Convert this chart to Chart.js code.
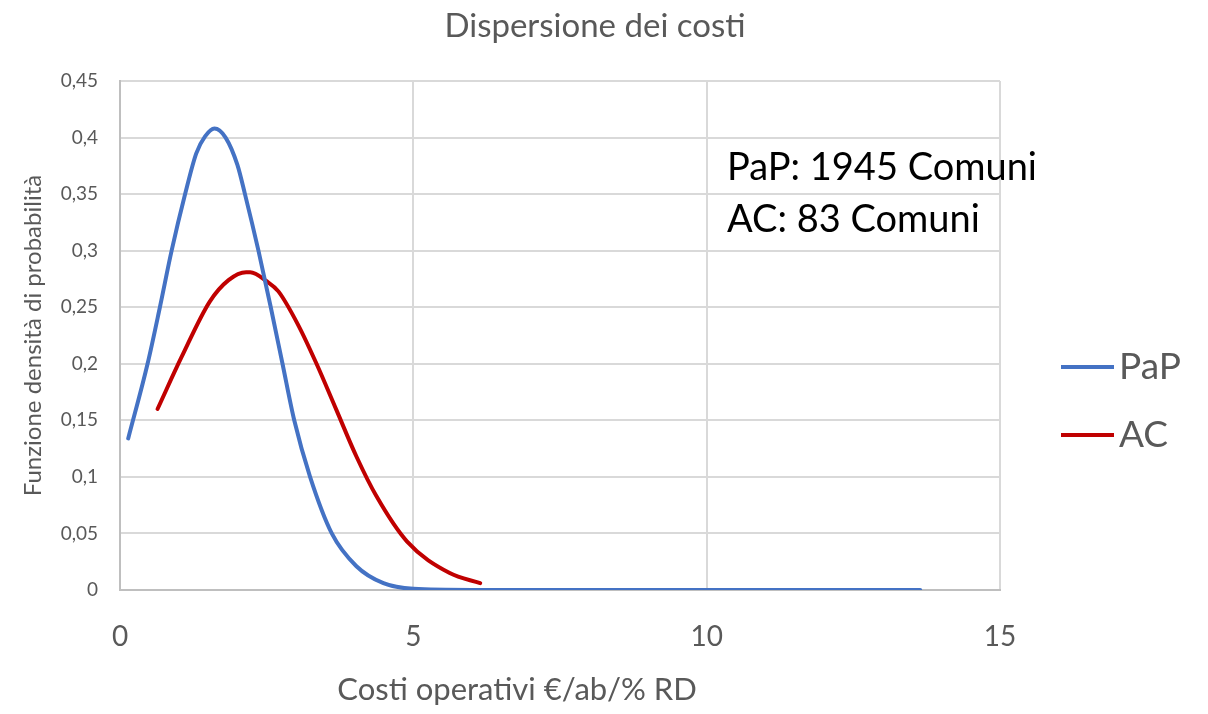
<!DOCTYPE html>
<html>
<head>
<meta charset="utf-8">
<script src="https://cdn.jsdelivr.net/npm/chart.js@4"></script>
<style>
  html, body { margin: 0; padding: 0; background: #fff; }
  #wrap { width: 1208px; height: 714px; }
</style>
</head>
<body>
<div id="wrap"><canvas id="myChart" width="1208" height="714"></canvas></div>
<script>
// dati
var papX = [0.14, 0.47, 0.68, 0.88, 1.11, 1.3, 1.45, 1.61, 1.8, 2.0, 2.13, 2.36, 2.57, 2.77, 2.97, 3.24, 3.61, 4.03, 4.49, 5.0, 6.0, 8.0, 10.0, 12.0, 13.64];
var papY = [0.134, 0.2, 0.25, 0.3, 0.35, 0.386, 0.401, 0.408, 0.4, 0.376, 0.35, 0.3, 0.25, 0.2, 0.15, 0.1, 0.05, 0.021, 0.006, 0.001, 0, 0, 0, 0, 0];
var acX = [0.64, 1.05, 1.53, 1.85, 2.15, 2.22, 2.5, 2.7, 3.04, 3.35, 3.69, 4.03, 4.37, 4.89, 5.62, 6.14];
var acY = [0.16, 0.206, 0.255, 0.274, 0.281, 0.281, 0.273, 0.264, 0.234, 0.2, 0.159, 0.118, 0.083, 0.043, 0.015, 0.006];
var serie = ["PaP", "AC"];
var colori = ["#4472C4", "#C00000"];
var xTickLabels = ["0", "5", "10", "15"];
var yTickLabels = ["0", "0,05", "0,1", "0,15", "0,2", "0,25", "0,3", "0,35", "0,4", "0,45"];
var note = ["PaP: 1945 Comuni", "AC: 83 Comuni"];
var titolo = "Dispersione dei costi";
var titoloX = "Costi operativi €/ab/% RD";

var FONT = "Lato, 'Open Sans', sans-serif";
var GRIGIO = "#595959";

function punti(xs, ys) {
  var out = [];
  for (var i = 0; i < xs.length; i++) out.push({ x: xs[i], y: ys[i] });
  return out;
}

// titolo, titolo asse x, note e legenda disegnati a mano
var extra = {
  id: "extra",
  afterDraw: function (chart) {
    var ctx = chart.ctx;
    ctx.save();
    ctx.textBaseline = "middle";
    ctx.fillStyle = GRIGIO;
    ctx.textAlign = "center";
    ctx.font = "33px " + FONT;
    ctx.fillText(titolo, 595, 26);
    ctx.font = "31px " + FONT;
    ctx.fillText(titoloX, 517, 690);
    // note
    ctx.fillStyle = "#000";
    ctx.font = "38px " + FONT;
    ctx.textAlign = "left";
    ctx.fillText(note[0], 727, 168);
    ctx.fillText(note[1], 727, 220);
    // legenda
    ctx.font = "37px " + FONT;
    ctx.fillStyle = GRIGIO;
    chart.data.datasets.forEach(function (ds, i) {
      var y = 367 + i * 68;
      ctx.strokeStyle = ds.borderColor;
      ctx.lineWidth = 4;
      ctx.beginPath();
      ctx.moveTo(1061, y);
      ctx.lineTo(1114, y);
      ctx.stroke();
      ctx.fillText(ds.label, 1119, y);
    });
    ctx.restore();
  }
};

var grafico = document.getElementById("myChart").getContext("2d");
var myChart = new Chart(grafico, {
  type: "scatter",
  data: {
    datasets: [
      {
        label: serie[0],
        data: punti(papX, papY),
        showLine: true,
        borderColor: colori[0],
        borderWidth: 4,
        pointRadius: 0,
        cubicInterpolationMode: "monotone",
        borderCapStyle: "round"
      },
      {
        label: serie[1],
        data: punti(acX, acY),
        showLine: true,
        borderColor: colori[1],
        borderWidth: 4,
        pointRadius: 0,
        cubicInterpolationMode: "monotone",
        borderCapStyle: "round"
      }
    ]
  },
  options: {
    responsive: false,
    animation: false,
    layout: { padding: { top: 81, right: 208, bottom: 0, left: 0 } },
    plugins: {
      legend: { display: false },
      title: { display: false },
      tooltip: { enabled: false }
    },
    scales: {
      x: {
        type: "linear",
        min: 0,
        max: 15,
        afterFit: function (s) { s.height = 124; },
        afterBuildTicks: function (s) {
          s.ticks = xTickLabels.map(function (t) { return { value: Number(t) }; });
        },
        ticks: {
          padding: 30,
          color: GRIGIO,
          font: { family: FONT, size: 28 },
          callback: function (v, i) { return xTickLabels[i]; }
        },
        grid: { color: "#d9d9d9", lineWidth: 2, drawTicks: false },
        border: { color: "#bfbfbf", width: 2 }
      },
      y: {
        min: 0,
        max: 0.45,
        afterFit: function (s) { s.width = 120; },
        afterBuildTicks: function (s) {
          s.ticks = yTickLabels.map(function (t, i) { return { value: i * 0.05 }; });
        },
        ticks: {
          padding: 22,
          color: GRIGIO,
          font: { family: FONT, size: 19 },
          callback: function (v, i) { return yTickLabels[i]; }
        },
        grid: { color: "#d9d9d9", lineWidth: 2, drawTicks: false },
        border: { color: "#bfbfbf", width: 2 },
        title: {
          display: true,
          text: "Funzione densità di probabilità",
          color: GRIGIO,
          font: { family: FONT, size: 24 },
          padding: { top: 19, bottom: 0 }
        }
      }
    }
  },
  plugins: [extra]
});
</script>
</body>
</html>
